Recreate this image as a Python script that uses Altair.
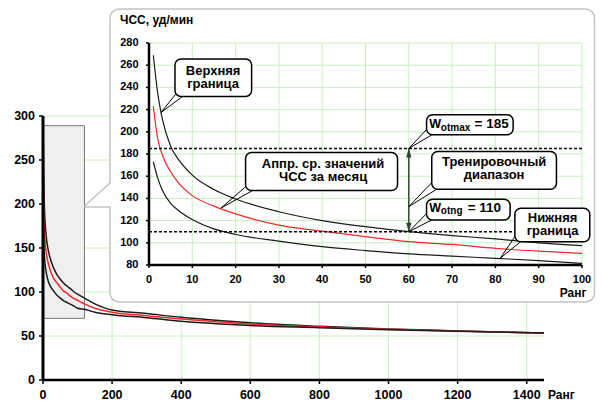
import altair as alt
import pandas as pd

# ------------------------------------------------------------------ data
inset_x = [1, 2, 3, 5, 7, 10, 15, 20, 30, 40, 50, 60, 70, 80, 90, 100]
inset_upper = [269, 235, 213, 187, 174, 161, 148, 139.5, 128, 120, 114.5, 110, 106.5, 103.5, 100, 97.5]
inset_mean = [223, 194, 180, 164, 153, 142.5, 133, 126, 116, 110.5, 105.5, 101, 98.5, 95, 92.5, 90.5]
inset_lower = [173, 158.5, 148, 135.5, 128.5, 121, 112.5, 107.5, 101.5, 96.5, 93, 90, 88, 86, 84, 81.5]

tail_x = [120, 150, 200, 300, 400, 500, 600, 800, 1000, 1200, 1450]
tail_upper = [93, 86.5, 79.5, 75.5, 71.2, 68, 65, 61, 58, 55.8, 53.3]
tail_mean = [86.5, 81.5, 77, 73, 69.3, 66.3, 63.6, 60.4, 57.6, 55.6, 53.3]
tail_lower = [80.3, 77, 74.2, 70.8, 66.7, 64, 61.8, 59.5, 57.2, 55.4, 53.3]

main_x_ticks = [0, 200, 400, 600, 800, 1000, 1200, 1400]
main_y_ticks = [0, 50, 100, 150, 200, 250, 300]
main_x_end = 1450
inset_x_ticks = [0, 10, 20, 30, 40, 50, 60, 70, 80, 90, 100]
inset_y_ticks = [80, 100, 120, 140, 160, 180, 200, 220, 240, 260, 280]

zoom_box = {"x0": 0, "x1": 120, "y0": 70, "y1": 289}
w_otmax = 185
w_otng = 110
arrow_rank = 60

series_names = ["upper", "mean", "lower"]
series_colors = ["#1c1c1c", "#ee2a2a", "#1c1c1c"]

# callout boxes (inset data units): name, x1, x2, ytop, ybottom
callout_boxes = [
    ("A", 6.0, 23.7, 265.6, 231.9),
    ("B", 22.3, 57.4, 181.4, 147.1),
    ("C", 64.1, 84.1, 215.4, 197.3),
    ("D", 65.3, 94.1, 182.3, 148.3),
    ("E", 64.1, 83.4, 139.3, 120.6),
    ("F", 84.5, 101.8, 131.2, 101.0),
]
# callout text lines: text, centre x, centre y
callout_lines = [
    ("Верхняя", 14.8, 254.9), ("граница", 14.8, 243.1),
    ("Аппр. ср. значений", 40.2, 170.8), ("ЧСС за месяц", 40.2, 159.0),
    ("Тренировочный", 79.7, 173.2), ("диапазон", 79.7, 161.4),
    ("Нижняя", 93.2, 122.0), ("граница", 93.2, 110.2),
]
# W labels: text, x, baseline y, font size
w_pieces = [
    ("W", 64.7, 203.4, 12.5), ("otmax", 67.4, 201.0, 10), ("= 185", 75.2, 203.4, 13.5),
    ("W", 64.7, 128.1, 12.5), ("otng", 67.4, 125.8, 10), ("= 110", 73.6, 128.1, 13.5),
]
# callout tails: id, (base1, tip, base2)
callout_tails = [
    ("A", [(6.6, 236.0), (2.8, 217.5), (8.0, 232.5)]),
    ("B", [(22.9, 152.5), (16.6, 131.2), (24.2, 147.7)]),
    ("C", [(64.7, 204.5), (60.0, w_otmax), (65.6, 197.9)]),
    ("D", [(65.9, 156.7), (60.0, 132.6), (66.7, 148.9)]),
    ("E", [(64.7, 128.7), (60.0, w_otng), (65.6, 121.2)]),
    ("F", [(85.1, 108.9), (81.1, 86.0), (86.0, 101.6)]),
]

# ------------------------------------------------------------------ frames
def long_df(xs, cols):
    rows = []
    for name, vals in zip(series_names, cols):
        for x, v in zip(xs, vals):
            rows.append({"x": x, "y": v, "s": name})
    return pd.DataFrame(rows)

main_df = long_df(inset_x + tail_x,
                  [inset_upper + tail_upper, inset_mean + tail_mean, inset_lower + tail_lower])
inset_df = long_df(inset_x, [inset_upper, inset_mean, inset_lower])

FONT = "Liberation Sans"
GRID = "#c8f0bf"
dummy = pd.DataFrame({"a": [0]})

W, H = 501, 264
sx_main = alt.Scale(domain=[0, main_x_end], nice=False, zero=False)
sy_main = alt.Scale(domain=[main_y_ticks[0], main_y_ticks[-1]], nice=False, zero=False)
sx_in = alt.Scale(domain=[inset_x_ticks[0], inset_x_ticks[-1]], range=[106, 539], nice=False, zero=False)
sy_in = alt.Scale(domain=[inset_y_ticks[0], inset_y_ticks[-1]], range=[149, -73], nice=False, zero=False)
col = alt.Color("s:N", scale=alt.Scale(domain=series_names, range=series_colors), legend=None)


def X(field, sc):
    return alt.X(field, scale=sc, axis=None)


def Y(field, sc):
    return alt.Y(field, scale=sc, axis=None)


def manual_axes(sx, sy, xt, yt, x_end, y_end, font_size, tick, x_pad, y_pad, dom_x_w, dom_y_w):
    """Axis lines, ticks and labels drawn through the given scales."""
    x0, y0 = xt[0], yt[0]
    xdf = pd.DataFrame({"v": xt, "base": y0})
    ydf = pd.DataFrame({"v": yt, "base": x0})
    dom = pd.DataFrame({"x0": [x0], "x1": [x_end], "y0": [y0], "y1": [y_end]})
    x_dom = alt.Chart(dom).mark_rule(color="#000", strokeWidth=dom_x_w).encode(
        x=X("x0:Q", sx), x2="x1:Q", y=Y("y0:Q", sy))
    y_dom = alt.Chart(dom).mark_rule(color="#000", strokeWidth=dom_y_w).encode(
        y=Y("y0:Q", sy), y2="y1:Q", x=X("x0:Q", sx))
    x_ticks = alt.Chart(xdf).mark_tick(orient="vertical", size=tick, thickness=1.5, color="#000",
                                       yOffset=tick / 2, opacity=1).encode(
        x=X("v:Q", sx), y=Y("base:Q", sy))
    y_ticks = alt.Chart(ydf).mark_tick(orient="horizontal", size=tick, thickness=1.5, color="#000",
                                       xOffset=-tick / 2, opacity=1).encode(
        y=Y("v:Q", sy), x=X("base:Q", sx))
    x_lab = alt.Chart(xdf).mark_text(font=FONT, fontWeight="bold", fontSize=font_size, color="#000",
                                     align="center", baseline="top", dy=x_pad).encode(
        x=X("v:Q", sx), y=Y("base:Q", sy), text=alt.Text("v:Q", format="d"))
    y_lab = alt.Chart(ydf).mark_text(font=FONT, fontWeight="bold", fontSize=font_size, color="#000",
                                     align="right", baseline="middle", dx=-y_pad).encode(
        y=Y("v:Q", sy), x=X("base:Q", sx), text=alt.Text("v:Q", format="d"))
    return [x_ticks, y_ticks, x_dom, y_dom, x_lab, y_lab]


# ------------------------------------------------------------------ main chart
m_vgrid = alt.Chart(pd.DataFrame({"x": main_x_ticks[1:], "y0": main_y_ticks[0], "y1": main_y_ticks[-1]})).mark_rule(
    color=GRID, strokeWidth=1).encode(x=X("x:Q", sx_main), y=Y("y0:Q", sy_main), y2="y1:Q")
m_hgrid = alt.Chart(pd.DataFrame({"y": main_y_ticks[1:], "x0": 0, "x1": main_x_end})).mark_rule(
    color=GRID, strokeWidth=1).encode(y=Y("y:Q", sy_main), x=X("x0:Q", sx_main), x2="x1:Q")
m_box = alt.Chart(pd.DataFrame([zoom_box])).mark_rect(fill="#efefef", stroke="#7a7a7a", strokeWidth=1).encode(
    x=X("x0:Q", sx_main), x2="x1:Q", y=Y("y0:Q", sy_main), y2="y1:Q")
m_lines = alt.Chart(main_df).mark_line(strokeWidth=1.5, interpolate="monotone").encode(
    x=X("x:Q", sx_main), y=Y("y:Q", sy_main), color=col, detail="s:N")
m_title = alt.Chart(dummy).mark_text(text="Ранг", font=FONT, fontWeight="bold", fontSize=12,
                                     baseline="top", align="left", color="#000").encode(
    x=alt.value(505), y=alt.value(274))
m_axes = manual_axes(sx_main, sy_main, main_x_ticks, main_y_ticks, main_x_end, main_y_ticks[-1],
                     12.5, 4, 9, 8, 2.5, 3)

main_group = alt.layer(m_vgrid, m_hgrid, m_box, m_lines, *m_axes, m_title)

# ------------------------------------------------------------------ inset panel
panel = alt.Chart(dummy).mark_rect(fill="white", stroke="#c4c4c4", strokeWidth=1.5, cornerRadius=9).encode(
    x=alt.value(67), x2=alt.value(551.5), y=alt.value(-107), y2=alt.value(186))
cover = alt.Chart(dummy).mark_rect(fill="white").encode(
    x=alt.value(42.5), x2=alt.value(68), y=alt.value(68), y2=alt.value(90.5))
ptr1 = alt.Chart(dummy).mark_rule(color="#bdbdbd", strokeWidth=1.3).encode(
    x=alt.value(41.5), y=alt.value(90), x2=alt.value(67), y2=alt.value(67))
ptr2 = alt.Chart(dummy).mark_rule(color="#bdbdbd", strokeWidth=1.3).encode(
    x=alt.value(41.5), y=alt.value(91), x2=alt.value(67), y2=alt.value(91))

i_vgrid = alt.Chart(pd.DataFrame({"x": inset_x_ticks[1:], "y0": inset_y_ticks[0], "y1": inset_y_ticks[-1]})).mark_rule(
    color=GRID, strokeWidth=1).encode(x=X("x:Q", sx_in), y=Y("y0:Q", sy_in), y2="y1:Q")
i_hgrid = alt.Chart(pd.DataFrame({"y": inset_y_ticks[1:], "x0": inset_x_ticks[0], "x1": inset_x_ticks[-1]})).mark_rule(
    color=GRID, strokeWidth=1).encode(y=Y("y:Q", sy_in), x=X("x0:Q", sx_in), x2="x1:Q")

i_lines = alt.Chart(inset_df).mark_line(strokeWidth=1.2, interpolate="monotone").encode(
    x=X("x:Q", sx_in), y=Y("y:Q", sy_in), color=col, detail="s:N")

dashes = alt.Chart(pd.DataFrame({"y": [w_otmax, w_otng], "x0": inset_x_ticks[0], "x1": inset_x_ticks[-1]})).mark_rule(
    color="#000", strokeWidth=1.5, strokeDash=[3, 2]).encode(
    y=Y("y:Q", sy_in), x=X("x0:Q", sx_in), x2="x1:Q")

ARROW = "#2e4a2e"
arrow_df = pd.DataFrame({"x": [arrow_rank], "y0": [w_otng], "y1": [w_otmax]})
arrow_line = alt.Chart(arrow_df).mark_rule(color=ARROW, strokeWidth=1.5).encode(
    x=X("x:Q", sx_in), y=Y("y0:Q", sy_in), y2="y1:Q")
head_up = alt.Chart(arrow_df).mark_point(shape="M0,-1L0.6,1L-0.6,1Z", filled=True, size=81, opacity=1,
                                         color=ARROW, yOffset=4.5).encode(
    x=X("x:Q", sx_in), y=Y("y1:Q", sy_in))
head_dn = alt.Chart(arrow_df).mark_point(shape="M0,1L0.6,-1L-0.6,-1Z", filled=True, size=81, opacity=1,
                                         color=ARROW, yOffset=-4.5).encode(
    x=X("x:Q", sx_in), y=Y("y0:Q", sy_in))

tail_rows = []
for cid, pts in callout_tails:
    for k, (px, py) in enumerate(pts):
        tail_rows.append({"id": cid, "o": k, "x": px, "y": py})
tails = alt.Chart(pd.DataFrame(tail_rows)).mark_line(color="#000", strokeWidth=1).encode(
    x=X("x:Q", sx_in), y=Y("y:Q", sy_in), detail="id:N", order="o:Q")

box_df = pd.DataFrame(callout_boxes, columns=["id", "x1", "x2", "y1", "y2"])
box_shadow = alt.Chart(box_df).mark_rect(fill="#b8b8b8", cornerRadius=6, xOffset=2, yOffset=2).encode(
    x=X("x1:Q", sx_in), x2="x2:Q", y=Y("y1:Q", sy_in), y2="y2:Q")
boxes = alt.Chart(box_df).mark_rect(fill="white", stroke="#000", strokeWidth=1.5, cornerRadius=6).encode(
    x=X("x1:Q", sx_in), x2="x2:Q", y=Y("y1:Q", sy_in), y2="y2:Q")

lines_df = pd.DataFrame(callout_lines, columns=["t", "x", "y"])
box_text = alt.Chart(lines_df).mark_text(font=FONT, fontWeight="bold", fontSize=13, align="center",
                                         baseline="middle", color="#000").encode(
    x=X("x:Q", sx_in), y=Y("y:Q", sy_in), text="t:N")

w_df = pd.DataFrame(w_pieces, columns=["t", "x", "y", "fs"])
w_text = alt.Chart(w_df).mark_text(font=FONT, fontWeight="bold", align="left", baseline="alphabetic",
                                   color="#000").encode(
    x=X("x:Q", sx_in), y=Y("y:Q", sy_in), text="t:N", size=alt.Size("fs:Q", scale=None))

y_title = alt.Chart(dummy).mark_text(text="ЧСС, уд/мин", font=FONT, fontWeight="bold", fontSize=12,
                                     align="left", baseline="middle", color="#000").encode(
    x=alt.value(77), y=alt.value(-96))
x_title = alt.Chart(dummy).mark_text(text="Ранг", font=FONT, fontWeight="bold", fontSize=12,
                                     align="center", baseline="middle", color="#000").encode(
    x=alt.value(530), y=alt.value(176.5))

i_axes = manual_axes(sx_in, sy_in, inset_x_ticks, inset_y_ticks, inset_x_ticks[-1], inset_y_ticks[-1],
                     11, 3, 9, 10.5, 2.5, 2.5)

inset_group = alt.layer(panel, cover, ptr1, ptr2, i_vgrid, i_hgrid, i_lines, dashes, arrow_line,
                        head_up, head_dn, *i_axes, tails, box_shadow, boxes, box_text, w_text,
                        y_title, x_title)

chart = alt.layer(main_group, inset_group).resolve_scale(
    x="independent", y="independent"
).properties(
    width=W, height=H,
    padding={"left": 35, "top": 108, "right": 52, "bottom": 22},
    autosize=alt.AutoSizeParams(type="none"),
    background="white",
).configure_view(stroke=None)

chart.save("out.html", embed_options={"renderer": "svg", "actions": False})
